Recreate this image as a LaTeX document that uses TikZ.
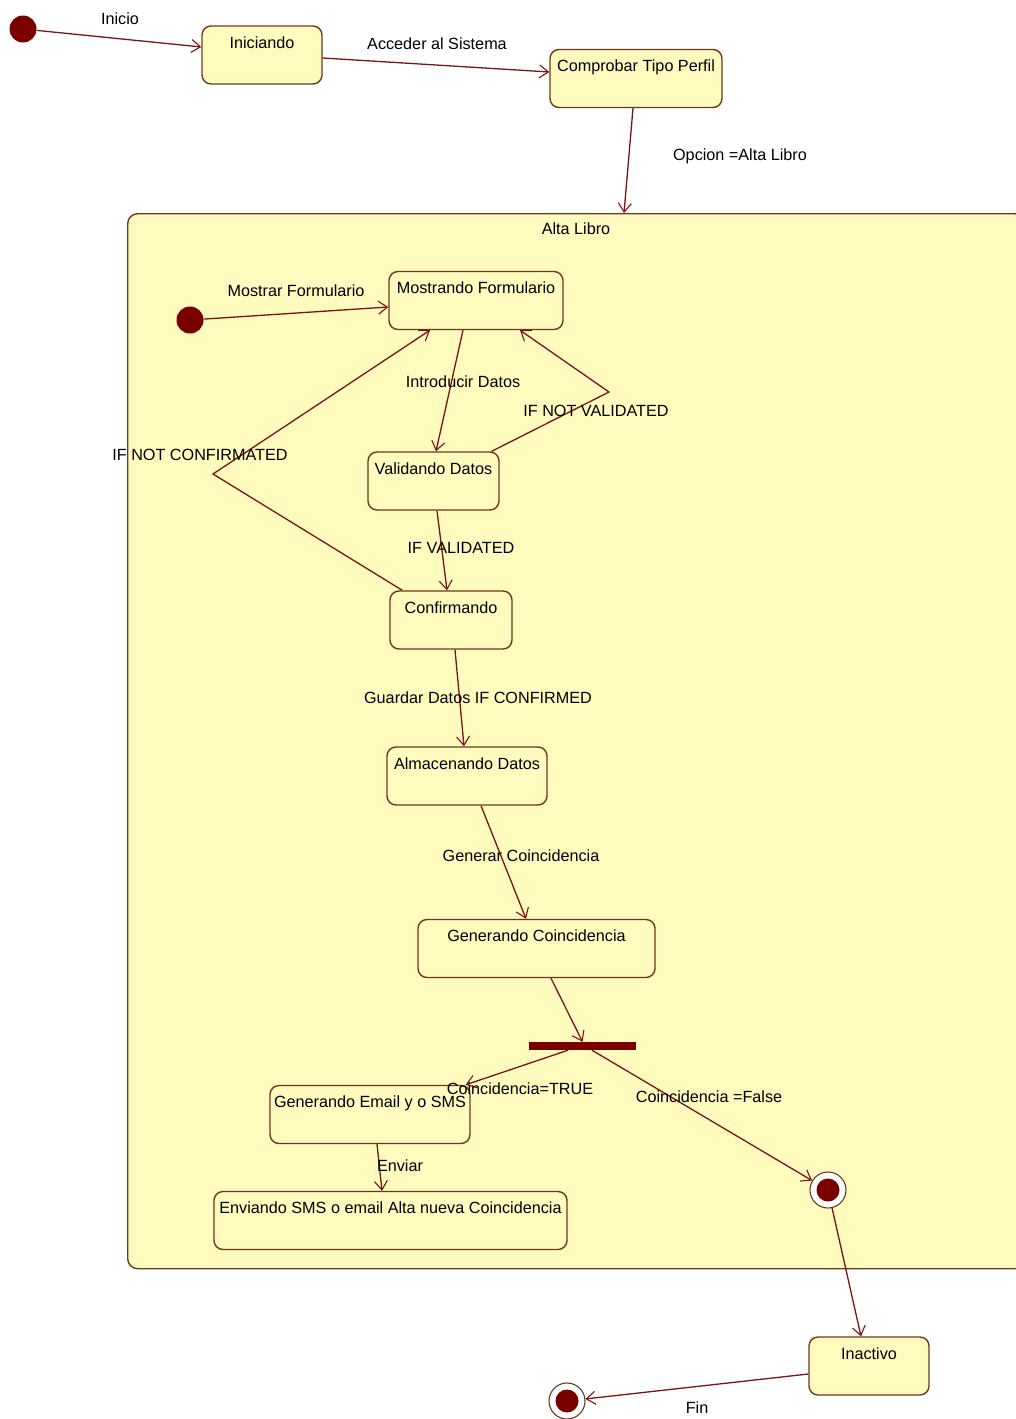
\documentclass[tikz,border=0pt]{standalone}
\usepackage{fontspec}
\setmainfont{Liberation Sans}
\usetikzlibrary{arrows.meta,calc}
\definecolor{boxfill}{HTML}{FFFBBE}
\definecolor{boxline}{HTML}{6B3A1E}
\definecolor{arrowline}{HTML}{7A1414}
\definecolor{dotred}{HTML}{7A0000}
\tikzset{
  every node/.style={font=\fontsize{16.2}{19}\selectfont},
  statebox/.style={draw=boxline, fill=boxfill, line width=1.4pt, rounded corners=9pt,
    inner xsep=0pt, inner ysep=10pt, text height=12pt, text depth=26pt, anchor=center},
  initdot/.style={circle, fill=dotred, inner sep=0pt, minimum size=27pt},
  finaldot/.style={circle, draw=boxline, fill=white, line width=1.1pt, inner sep=0pt, minimum size=36pt,
    path picture={\fill[dotred] (path picture bounding box.center) circle (11.5pt);}},
  trans/.style={draw=arrowline, line width=1.3pt, -{Straight Barb[length=9pt,width=13pt,line width=1.1pt]}},
  lbl/.style={inner sep=0pt, text=black}
}
\begin{document}
\begin{tikzpicture}[x=1pt,y=-1pt]
\useasboundingbox (0,0) rectangle (1016,1419);
\begin{scope}
\clip (0,0) rectangle (1016,1419);
% composite state
\node[draw=boxline, fill=boxfill, line width=1.4pt, rounded corners=10pt, minimum width=897pt, minimum height=1055pt, inner sep=0pt, anchor=north west] (alta) at (127,213) {};
\end{scope}
\node[lbl] (altalbl) at (576,229) {Alta Libro};

% states
\node[statebox, minimum width=120pt] (ini) at (262,55) {Iniciando};
\node[statebox, minimum width=172pt] (comp) at (636,78.5) {Comprobar Tipo Perfil};
\node[statebox, minimum width=174pt] (mos) at (476,300.5) {Mostrando Formulario};
\node[statebox, minimum width=131pt] (val) at (433.5,481) {Validando Datos};
\node[statebox, minimum width=122pt] (conf) at (451,620) {Confirmando};
\node[statebox, minimum width=160pt] (alm) at (467,776) {Almacenando Datos};
\node[statebox, minimum width=237pt] (gen) at (536.5,948.5) {Generando Coincidencia};
\node[statebox, minimum width=200pt] (email) at (370,1114.5) {Generando Email y o SMS};
\node[statebox, minimum width=353pt] (env) at (390.5,1220.5) {Enviando SMS o email Alta nueva Coincidencia};
\node[statebox, minimum width=120pt] (inac) at (869,1366) {Inactivo};

% pseudo states
\node[initdot] (i0) at (23,29) {};
\node[initdot] (i1) at (190,320) {};
\node[fill=dotred, inner sep=0pt, minimum width=107pt, minimum height=8pt] (bar) at (582.5,1046) {};
\node[finaldot] (f1) at (828,1190) {};
\node[finaldot] (f2) at (567,1401) {};

% bend points
\coordinate (nv) at (609,392);
\coordinate (nc) at (213,474);

% transitions
\draw[trans] (i0) -- ($(ini.west)+(0,-8)$);
\draw[trans] ($(ini.east)+(0,3)$) -- ($(comp.west)+(0,-6.5)$);
\draw[trans] ($(comp.south)+(-3,0)$) -- ($(alta.north west)+(497,0)$);
\draw[trans] (i1) -- ($(mos.west)+(0,6.5)$);
\draw[trans] ($(mos.south)+(-13,0)$) -- ($(val.north)+(2.5,0)$);
\draw[trans] ($(val.north east)+(-8,0)$) -- (nv) -- ($(mos.south)+(44,0)$);
\draw[trans] ($(conf.north west)+(13,0)$) -- (nc) -- ($(mos.south)+(-46,0)$);
\draw[trans] ($(val.south)+(3.5,0)$) -- ($(conf.north)+(-4,0)$);
\draw[trans] ($(conf.south)+(4,0)$) -- ($(alm.north)+(-3,0)$);
\draw[trans] ($(alm.south)+(14,0)$) -- ($(gen.north)+(-10.5,0)$);
\draw[trans] ($(gen.south)+(14.5,0)$) -- (bar.north);
\draw[trans] ($(bar.south)+(-14.5,0)$) -- ($(email.north east)+(-5,0)$);
\draw[trans] ($(email.south)+(7,0)$) -- ($(env.north)+(-8.5,0)$);
\draw[trans] ($(bar.south)+(9.5,0)$) -- (f1);
\draw[trans] (f1) -- ($(inac.north)+(-8,0)$);
\draw[trans] ($(inac.west)+(0,8)$) -- (f2);

% transition labels
\node[lbl] (l1) at (120,19) {Inicio};
\node[lbl] (l2) at (437,44) {Acceder al Sistema};
\node[lbl] (l3) at (740,156) {Opcion =Alta Libro};
\node[lbl] (l4) at (296,291) {Mostrar Formulario};
\node[lbl] (l5) at (463,382) {Introducir Datos};
\node[lbl] (l6) at (596,411) {IF NOT VALIDATED};
\node[lbl] (l7) at (200,455) {IF NOT CONFIRMATED};
\node[lbl] (l8) at (461,548) {IF VALIDATED};
\node[lbl] (l9) at (478,698) {Guardar Datos IF CONFIRMED};
\node[lbl] (l10) at (521,856) {Generar Coincidencia};
\node[lbl] (l11) at (520,1089) {Coincidencia=TRUE};
\node[lbl] (l12) at (709,1097) {Coincidencia =False};
\node[lbl] (l13) at (400,1166) {Enviar};
\node[lbl] (l14) at (697,1408) {Fin};
\end{tikzpicture}
\end{document}
